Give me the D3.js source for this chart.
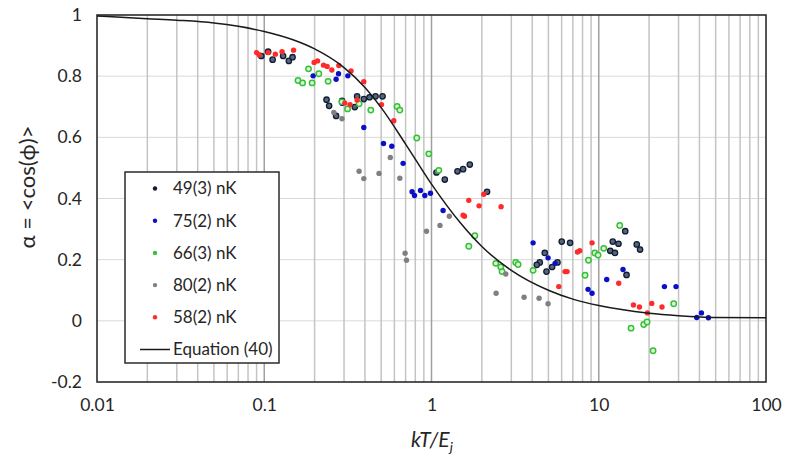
<!DOCTYPE html>
<html lang="en">
<head>
    <meta charset="UTF-8">
    <title>alpha vs kT/Ej</title>
    <script src="https://d3js.org/d3.v7.min.js"></script>
    <style>
        body {margin:0;background:#fff;}
        svg text {font-family: Lato, 'Open Sans', sans-serif; fill:#262626;}
    </style>
</head>
<body>
<svg width="785" height="456"></svg>
<script>
    // [kT/Ej, alpha]
    const s49 = [[0.0961,0.866],[0.1055,0.880],[0.1122,0.854],[0.1297,0.866],[0.1403,0.850],[0.1476,0.862],
        [0.2357,0.723],[0.2443,0.703],[0.269,0.670],[0.2921,0.719],[0.3479,0.699],[0.3591,0.734],[0.3938,0.725],
        [0.4259,0.731],[0.4628,0.734],[0.5095,0.734],[1.071,0.485],[1.201,0.462],[1.43,0.489],[1.545,0.496],
        [1.694,0.511],[2.149,0.422],[4.756,0.222],[4.44,0.191],[4.261,0.183],[4.869,0.161],[5.26,0.176],
        [5.665,0.191],[6.008,0.259],[6.738,0.255],[12.13,0.259],[13.12,0.252],[11.72,0.229],[12.5,0.222],
        [14.4,0.293],[14.66,0.150],[16.87,0.250],[17.66,0.233]];
    const s75 = [[0.196,0.801],[0.269,0.790],[0.278,0.808],[0.316,0.801],[0.2921,0.711],[0.3938,0.632],
        [0.5164,0.580],[0.5789,0.571],[0.6764,0.515],[0.7656,0.422],[0.7914,0.410],[0.8595,0.426],[0.912,0.410],
        [0.986,0.417],[1.173,0.361],[4.049,0.255],[4.977,0.206],[5.481,0.188],[8.63,0.103],[9.12,0.090],
        [11.16,0.135],[13.97,0.168],[24.7,0.112],[28.97,0.112],[38.53,0.011],[41.11,0.026],[45.26,0.010]];
    const s66 = [[0.1592,0.786],[0.1696,0.778],[0.184,0.824],[0.1933,0.778],[0.212,0.808],[0.2409,0.783],
        [0.2909,0.716],[0.3147,0.693],[0.3691,0.710],[0.4336,0.689],[0.6229,0.701],[0.6465,0.689],[0.8168,0.598],
        [0.9636,0.546],[1.106,0.492],[1.815,0.278],[1.671,0.244],[2.423,0.188],[2.596,0.176],[2.642,0.161],
        [3.19,0.191],[3.293,0.184],[4.049,0.165],[8.281,0.149],[8.679,0.198],[9.464,0.222],[9.904,0.215],
        [10.71,0.237],[13.35,0.312],[15.6,-0.024],[18.58,-0.012],[19.45,-0.004],[21.12,-0.098],[28.07,0.056]];
    const s80 = [[0.2606,0.681],[0.2917,0.661],[0.3691,0.489],[0.3938,0.465],[0.4856,0.482],[0.5671,0.534],
        [0.6465,0.466],[0.6953,0.221],[0.7088,0.198],[0.9335,0.293],[1.124,0.312],[1.278,0.342],[2.78,0.153],
        [2.433,0.090],[3.577,0.077],[4.398,0.074],[4.977,0.056]];
    const s58 = [[0.0899,0.877],[0.0932,0.870],[0.1055,0.877],[0.1165,0.872],[0.1278,0.880],[0.1497,0.885],
        [0.1987,0.845],[0.2083,0.850],[0.2262,0.836],[0.2377,0.832],[0.2535,0.820],[0.2792,0.835],[0.3303,0.817],
        [0.3938,0.782],[0.3032,0.712],[0.3258,0.707],[0.3591,0.722],[0.5025,0.707],[0.5951,0.654],[1.671,0.394],
        [1.925,0.376],[1.545,0.345],[1.575,0.342],[2.054,0.414],[2.606,0.373],[7.459,0.225],[7.699,0.229],
        [6.289,0.161],[6.465,0.161],[5.768,0.112],[9.12,0.255],[13.17,0.123],[16.12,0.052],[17.51,0.045],
        [20.74,0.057],[19.55,0.026],[23.89,0.045]];
    // Equation (40), points
    const eqKT    = [0.01,0.02,0.03,0.05,0.07,0.1,0.15,0.2,0.3,0.4,0.5,0.7,1,1.5,2,3,5,7,10,20,30,50,100];
    const eqAlpha = [0.997,0.988,0.983,0.974,0.963,0.946,0.918,0.889,0.828,0.763,0.697,0.578,0.447,0.318,0.243,0.165,0.100,0.071,0.050,0.025,0.017,0.011,0.010];

    const seriesNames = ['49(3) nK','75(2) nK','66(3) nK','80(2) nK','58(2) nK'];
    const curveName = 'Equation (40)';
    const xTicks = [0.01,0.1,1,10,100];
    const yTicks = [-0.2,0,0.2,0.4,0.6,0.8,1];

    const styles = [
        {fill:'#56667e',stroke:'#111c30',sw:1.3},
        {fill:'#0a10c8',stroke:'none',sw:0},
        {fill:'#dff3df',stroke:'#34c234',sw:1.5},
        {fill:'#808080',stroke:'none',sw:0},
        {fill:'#ff2b2b',stroke:'none',sw:0}
    ];
    const allSeries = [s49,s75,s66,s80,s58];

    const width = 785, height = 456;
    const margin = {left:97,right:19,top:15,bottom:74};
    const svg = d3.select('svg');
    svg.append('rect').attr('width',width).attr('height',height).attr('fill','#fff');

    const x = d3.scaleLog().domain([0.01,100]).range([margin.left,width-margin.right]);
    const y = d3.scaleLinear().domain([-0.2,1]).range([height-margin.bottom,margin.top]);

    // grid
    const grid = svg.append('g');
    grid.selectAll('line.h').data(yTicks.slice(1,-1)).join('line').attr('class','h')
        .attr('x1',x.range()[0]).attr('x2',x.range()[1])
        .attr('y1',d=>y(d)).attr('y2',d=>y(d))
        .attr('stroke','#d9d9d9').attr('stroke-width',1);
    grid.selectAll('line.v').data(x.ticks().filter(d=>d>0.01&&d<100)).join('line').attr('class','v')
        .attr('x1',d=>x(d)).attr('x2',d=>x(d))
        .attr('y1',y.range()[0]).attr('y2',y.range()[1])
        .attr('stroke',d=>xTicks.includes(d)?'#a0a0a0':'#c4c4c4')
        .attr('stroke-width',1.5);

    // axes labels
    svg.append('g').attr('transform',`translate(0,${y.range()[0]})`)
        .call(d3.axisBottom(x).tickValues(xTicks).tickFormat(d=>String(d)).tickSize(0).tickPadding(17))
        .call(g=>g.select('.domain').remove())
        .selectAll('text').attr('font-size',17.5).attr('font-family','Lato, sans-serif').attr('fill','#262626');
    svg.append('g').attr('transform',`translate(${x.range()[0]},0)`)
        .call(d3.axisLeft(y).tickValues(yTicks).tickFormat(d=>String(+d.toFixed(1))).tickSize(0).tickPadding(15))
        .call(g=>g.select('.domain').remove())
        .selectAll('text').attr('font-size',17.5).attr('font-family','Lato, sans-serif').attr('fill','#262626');

    // frame
    svg.append('rect')
        .attr('x',x.range()[0]).attr('y',y.range()[1])
        .attr('width',x.range()[1]-x.range()[0]).attr('height',y.range()[0]-y.range()[1])
        .attr('fill','none').attr('stroke','#2b2b2b').attr('stroke-width',1.6);

    // points
    allSeries.forEach((s,i)=>{
        svg.append('g').selectAll('circle').data(s).join('circle')
            .attr('cx',d=>x(d[0])).attr('cy',d=>y(d[1])).attr('r',2.7)
            .attr('fill',styles[i].fill).attr('stroke',styles[i].stroke).attr('stroke-width',styles[i].sw);
    });

    // equation curve
    const eq = eqKT.map((d,i)=>[d,eqAlpha[i]]);
    svg.append('path').datum(eq)
        .attr('d',d3.line().curve(d3.curveMonotoneX).x(d=>x(d[0])).y(d=>y(d[1])))
        .attr('fill','none').attr('stroke','#1a1a1a').attr('stroke-width',1.5);

    // legend
    const lg = svg.append('g').attr('transform','translate(125,172)');
    lg.append('rect').attr('width',154).attr('height',191)
        .attr('fill','#fff').attr('stroke','#2b2b2b').attr('stroke-width',1.5);
    const rowY = i=>16.5+i*32.2;
    seriesNames.forEach((name,i)=>{
        lg.append('circle').attr('cx',30).attr('cy',rowY(i)).attr('r',2.2)
            .attr('fill',styles[i].stroke==='none'?styles[i].fill:styles[i].stroke);
        lg.append('text').attr('x',48).attr('y',rowY(i)).attr('dy','0.35em')
            .attr('font-size',17).text(name);
    });
    lg.append('line').attr('x1',15).attr('x2',45).attr('y1',rowY(5)).attr('y2',rowY(5))
        .attr('stroke','#1a1a1a').attr('stroke-width',1.5);
    lg.append('text').attr('x',48).attr('y',rowY(5)).attr('dy','0.35em')
        .attr('font-size',17).text(curveName);

    // axis titles
    svg.append('text').attr('transform','translate(35,187) rotate(-90)')
        .attr('text-anchor','middle').attr('font-size',22).text('α = <cos(ϕ)>');
    const xt = svg.append('text').attr('x',432).attr('y',447).attr('text-anchor','middle')
        .attr('font-size',21).attr('font-style','italic');
    xt.append('tspan').text('kT/E');
    xt.append('tspan').attr('font-size',14).attr('dy',5).text('j');
</script>
</body>
</html>
